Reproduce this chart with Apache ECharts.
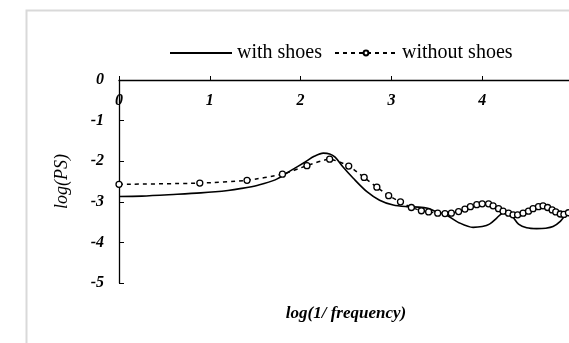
<!DOCTYPE html>
<html>
<head>
<meta charset="utf-8">
<script src="https://cdn.jsdelivr.net/npm/echarts@6/dist/echarts.min.js"></script>
<style>
html,body{margin:0;padding:0;background:#fff;}
#chart{width:569px;height:343px;}
</style>
</head>
<body>
<div id="chart"></div>
<script>
// ---- data ----
var seriesNames = ['with shoes', 'without shoes'];
var xTicks = [0, 1, 2, 3, 4, 5];
var yTicks = [0, -1, -2, -3, -4, -5];

var withShoesX = [0, 0.25, 0.6, 0.9, 1.2, 1.35, 1.53, 1.72, 1.9, 2.05, 2.15, 2.25, 2.32, 2.38, 2.47, 2.58, 2.73, 2.87, 3.02, 3.17, 3.3, 3.4, 3.48, 3.56, 3.61, 3.75, 3.9, 4.0, 4.08, 4.16, 4.22, 4.28, 4.33, 4.4, 4.49, 4.6, 4.7, 4.78, 4.86, 4.93, 5.0];
var withShoesY = [-2.87, -2.86, -2.82, -2.78, -2.72, -2.67, -2.59, -2.46, -2.22, -2.02, -1.88, -1.80, -1.82, -1.90, -2.15, -2.42, -2.75, -2.96, -3.08, -3.12, -3.13, -3.16, -3.23, -3.29, -3.33, -3.52, -3.63, -3.61, -3.55, -3.40, -3.28, -3.26, -3.35, -3.55, -3.64, -3.66, -3.65, -3.61, -3.48, -3.30, -3.25];

var withoutShoesX = [0, 0.89, 1.41, 1.80, 2.07, 2.32, 2.53, 2.70, 2.84, 2.97, 3.10, 3.22, 3.33, 3.41, 3.51, 3.59, 3.66, 3.74, 3.81, 3.87, 3.94, 4.00, 4.07, 4.12, 4.18, 4.23, 4.29, 4.34, 4.39, 4.45, 4.51, 4.56, 4.62, 4.67, 4.72, 4.77, 4.81, 4.86, 4.90, 4.95];
var withoutShoesY = [-2.57, -2.54, -2.47, -2.32, -2.11, -1.95, -2.12, -2.40, -2.64, -2.85, -3.00, -3.14, -3.22, -3.25, -3.28, -3.29, -3.28, -3.24, -3.18, -3.12, -3.07, -3.05, -3.05, -3.10, -3.17, -3.23, -3.28, -3.32, -3.32, -3.28, -3.23, -3.17, -3.12, -3.10, -3.14, -3.20, -3.25, -3.30, -3.31, -3.27];

function zip(xs, ys) { return xs.map(function (x, i) { return [x, ys[i]]; }); }

var serif = '"Liberation Serif", "DejaVu Serif", serif';
var chart = echarts.init(document.getElementById('chart'), null, {renderer: 'canvas'});

var option = {
  animation: false,
  backgroundColor: '#ffffff',
  graphic: [{
    type: 'rect', left: 24, top: 8, z: -1,
    shape: {x: 0, y: 0, width: 600, height: 400},
    style: {fill: 'none', stroke: '#d9d9d9', lineWidth: 2}
  }],
  legend: {
    left: 164, top: 38,
    itemWidth: 62, itemHeight: 6, itemGap: 12,
    textStyle: {fontFamily: serif, fontSize: 20, color: '#000'},
    data: [
      {name: seriesNames[0], itemStyle: {opacity: 0}},
      {name: seriesNames[1]}
    ]
  },
  grid: {left: 119, top: 80, width: 454, height: 203, containLabel: false, outerBoundsMode: 'none'},
  xAxis: [{
    type: 'value', position: 'top', min: xTicks[0], max: xTicks[xTicks.length - 1], interval: 1,
    splitLine: {show: false},
    axisLine: {show: true, onZero: false, lineStyle: {color: '#000', width: 1.3}},
    axisTick: {show: true, inside: false, length: 4, lineStyle: {color: '#000'}},
    axisLabel: {inside: true, margin: 13, color: '#000', fontFamily: serif, fontSize: 16, fontWeight: 'bold', fontStyle: 'italic'}
  }, {
    type: 'value', position: 'bottom', min: 0, max: 5,
    name: 'log(1/ frequency)', nameLocation: 'middle', nameGap: 22,
    nameTextStyle: {color: '#000', fontFamily: serif, fontSize: 17, fontWeight: 'bold', fontStyle: 'italic'},
    axisLine: {show: false}, axisTick: {show: false}, axisLabel: {show: false}, splitLine: {show: false}
  }],
  yAxis: {
    type: 'value', min: yTicks[yTicks.length - 1], max: yTicks[0], interval: 1,
    name: 'log(PS)', nameLocation: 'middle', nameGap: 48, nameRotate: 90,
    nameTextStyle: {color: '#000', fontFamily: serif, fontSize: 18, fontStyle: 'italic'},
    splitLine: {show: false},
    axisLine: {show: true, onZero: false, lineStyle: {color: '#000', width: 1.3}},
    axisTick: {show: true, inside: true, length: 5, lineStyle: {color: '#000'}},
    axisLabel: {margin: 15, color: '#000', fontFamily: serif, fontSize: 16, fontWeight: 'bold', fontStyle: 'italic'}
  },
  series: [{
    name: seriesNames[0], type: 'line', xAxisIndex: 0,
    data: zip(withShoesX, withShoesY),
    smooth: 0.3, symbol: 'none', clip: false,
    lineStyle: {color: '#000', width: 1.6},
    itemStyle: {color: '#000'}
  }, {
    name: seriesNames[1], type: 'line', xAxisIndex: 0,
    data: zip(withoutShoesX, withoutShoesY),
    smooth: 0.2, symbol: 'circle', symbolSize: 6, showSymbol: true, clip: false,
    lineStyle: {color: '#000', width: 1.5, type: [4, 4]},
    itemStyle: {color: '#fff', borderColor: '#000', borderWidth: 1.3}
  }]
};
chart.setOption(option);
</script>
</body>
</html>
